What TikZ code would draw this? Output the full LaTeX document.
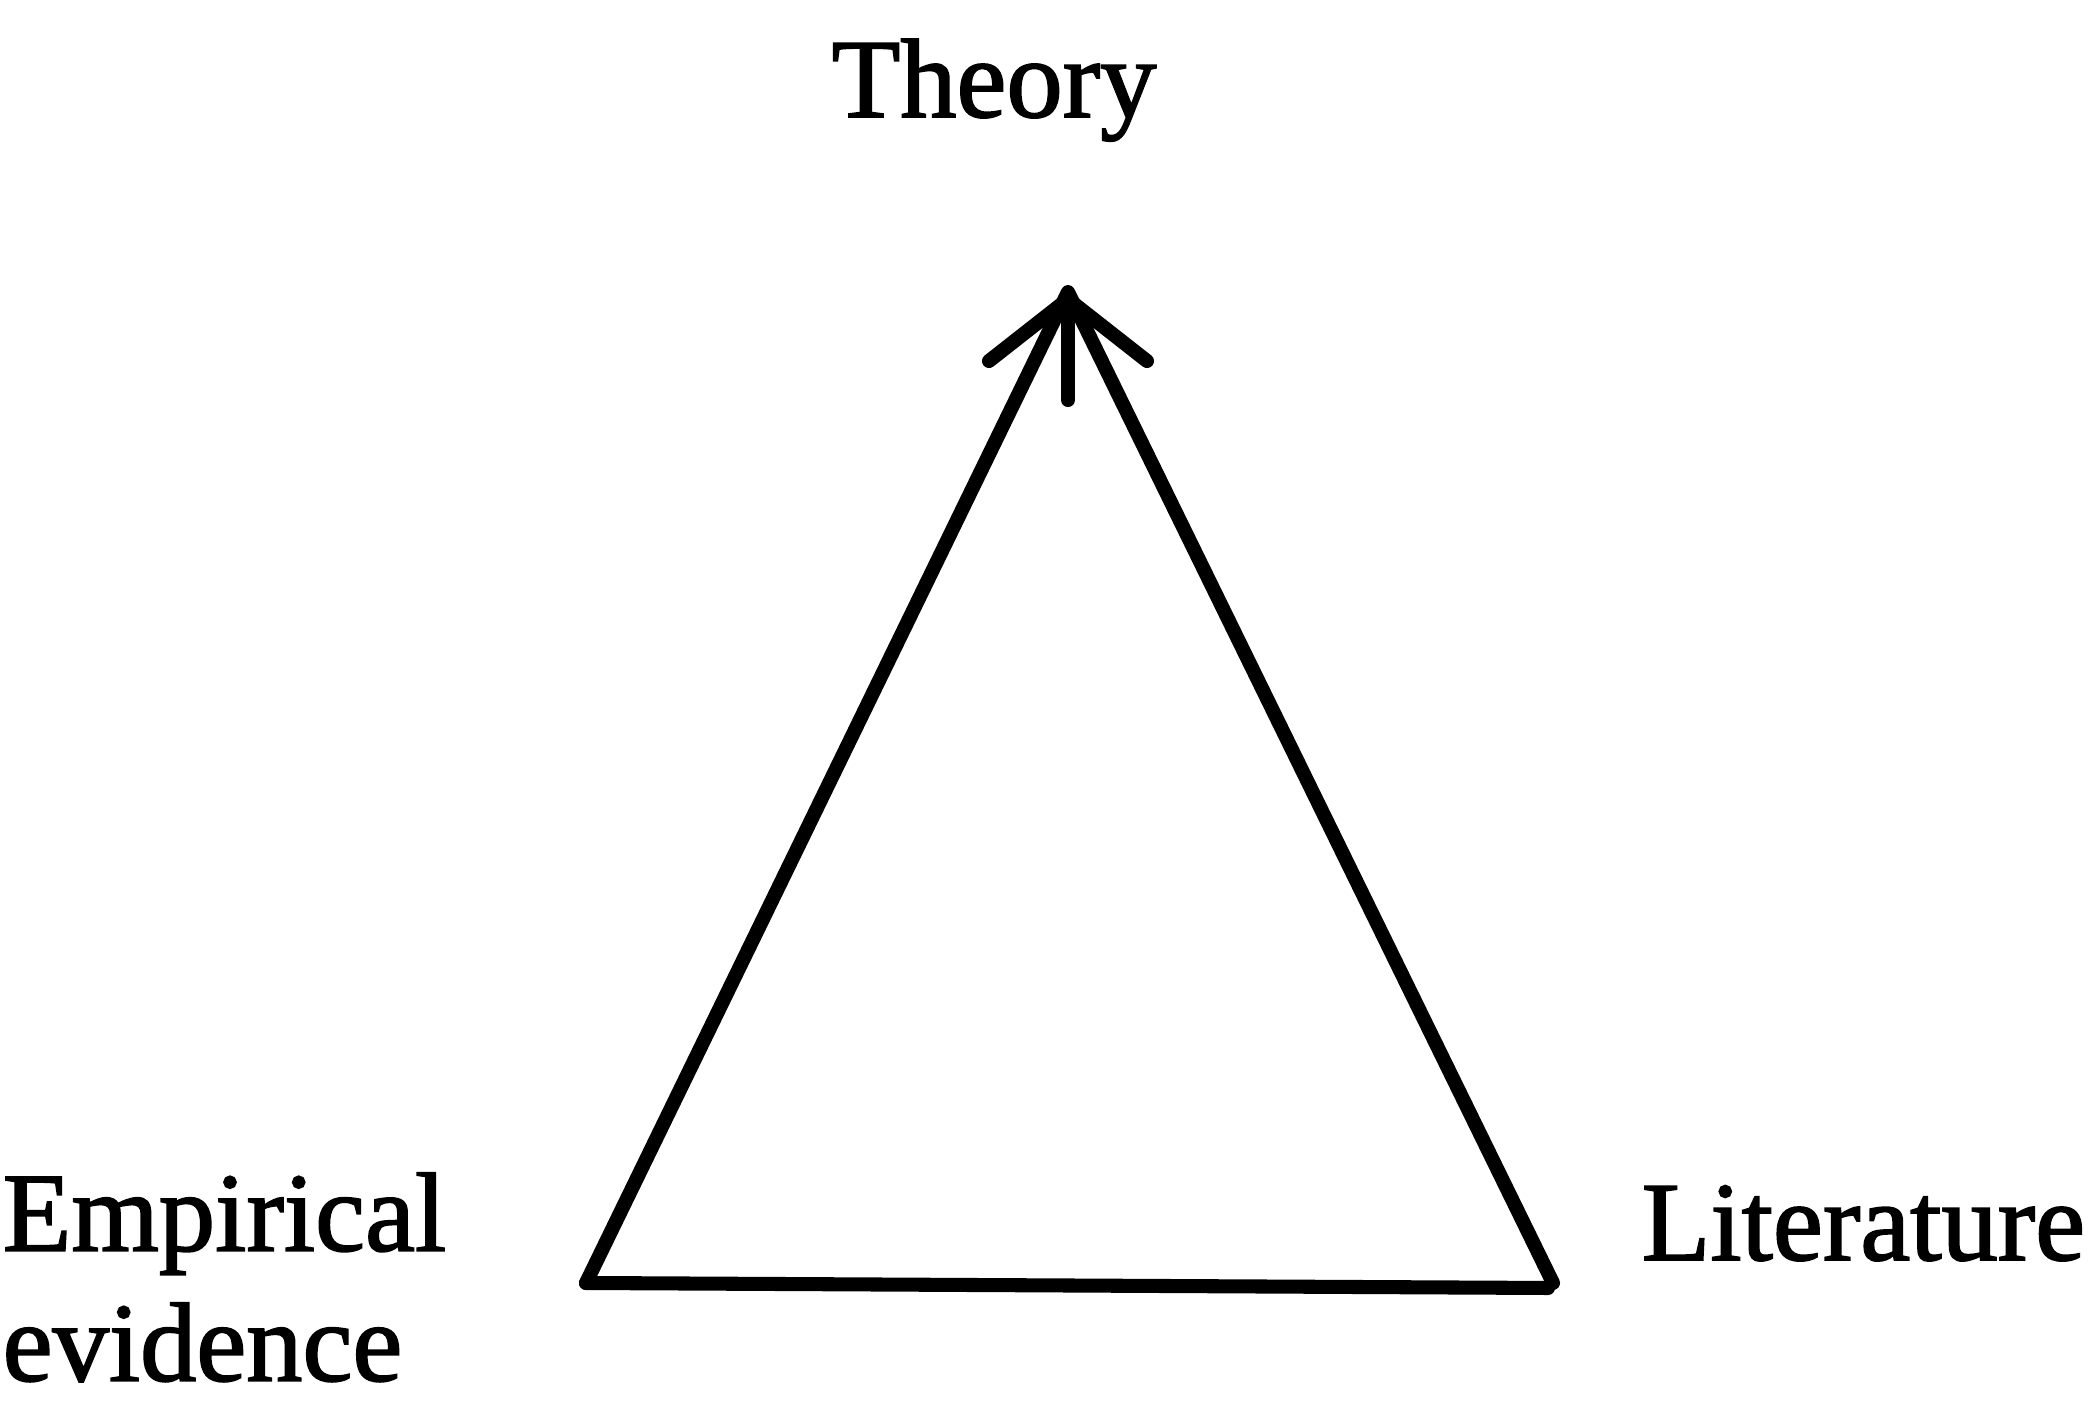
\documentclass[tikz,border=0pt]{standalone}
\usepackage{fontspec}
\setmainfont{Liberation Serif}[FakeBold=1.6]
\usetikzlibrary{arrows.meta,positioning}
\tikzset{
  label/.style={inner sep=0pt,font=\fontsize{32}{37}\selectfont},
  edge/.style={line width=4pt,line join=round,line cap=round},
  arrow/.style={edge,-{Straight Barb[length=6.2mm,width=15.8mm,line join=round,line cap=round]}}
}
\begin{document}
\begin{tikzpicture}
  \useasboundingbox (0,0) rectangle (20.89,14.03);
  \coordinate (top) at (10.68,11.11);
  \coordinate (stem) at (10.68,10.03);
  \coordinate (left) at (5.86,1.20);
  \coordinate (right) at (15.53,1.20);
  \coordinate (rightend) at (15.48,1.15);
  \node[label,anchor=base] (theory) at (9.94,12.86) {Theory};
  \node[label,anchor=north west,align=left] (empirical) at (0.02,2.31) {Empirical\\evidence};
  \node[label,anchor=base west] (literature) at (16.41,1.43) {Literature};
  \draw[edge] (left) -- (top) -- (right);
  \draw[edge] (left) -- (rightend);
  \draw[arrow] (stem) -- (top);
\end{tikzpicture}
\end{document}
